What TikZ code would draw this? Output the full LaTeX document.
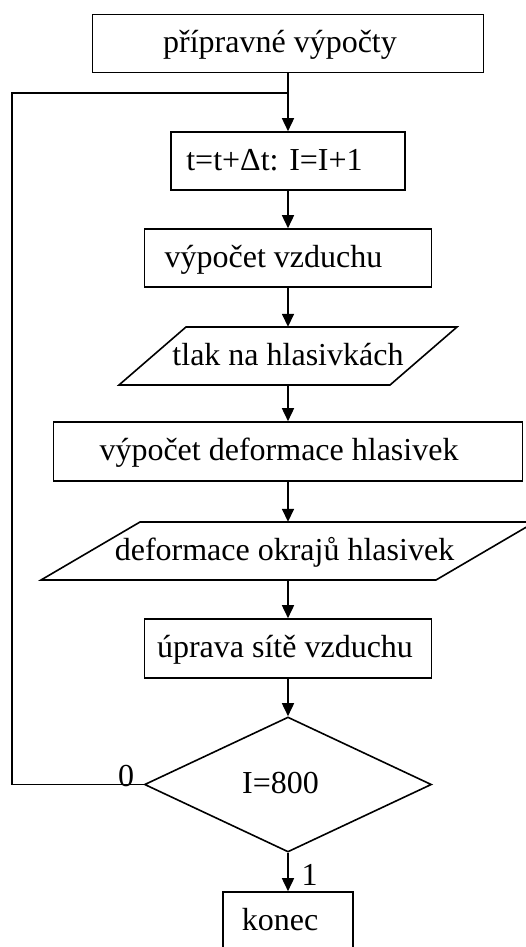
\documentclass[tikz,border=0pt]{standalone}
\usepackage{fontspec}
\setmainfont{Liberation Serif}
\usetikzlibrary{arrows.meta,shapes.geometric,calc}
\begin{document}
\begin{tikzpicture}[x=1pt,y=-1pt,
  every node/.style={font=\fontsize{32}{38}\selectfont, inner sep=0pt, text height=22pt, text depth=4pt},
  conn/.style={line width=1.6pt},
  box/.style={draw, conn, rectangle, minimum height=58pt},
  flow/.style={conn, -{Triangle[length=13pt,width=12pt]}},
  lab/.style={anchor=base, text height=, text depth=}
]
\path[use as bounding box, clip] (0,0) rectangle (526,947);

\node[box, minimum width=391pt] (prep) at (288,43.5) {přípravné výpočty\hspace*{16pt}};
\node[box, minimum width=234.5pt] (step) at (288,161) {t=t+Δt: I=I+1\hspace*{27pt}};
\node[box, minimum width=287pt] (air) at (288,258) {výpočet vzduchu\hspace*{29pt}};
\node[minimum width=271pt, minimum height=58pt] (press) at (288,356) {tlak na hlasivkách};
\draw[conn] ($(press.center)+(-169,29)$) -- ($(press.center)+(102,29)$)
  -- ($(press.center)+(169,-29)$) -- ($(press.center)+(-102,-29)$) -- cycle;
\node[box, minimum width=469pt, minimum height=59pt] (deform) at (288,451.5) {výpočet deformace hlasivek\hspace*{18pt}};
\node[minimum width=300pt, minimum height=58pt] (edges) at (288,551) {deformace okrajů hlasivek\hspace*{7pt}};
\draw[conn] ($(edges.center)+(-247,29)$) -- ($(edges.center)+(148,29)$)
  -- ($(edges.center)+(247,-29)$) -- ($(edges.center)+(-148,-29)$) -- cycle;
\node[box, minimum width=287pt, minimum height=59pt] (mesh) at (288,648.5) {úprava sítě vzduchu\hspace*{6pt}};
\node[diamond, draw, conn, minimum width=287pt, minimum height=135pt] (test) at (288,784.5) {I=800\hspace*{15pt}};
\node[box, minimum width=130pt] (end) at (288,921) {konec\hspace*{16pt}};

\draw[flow] (prep) -- (step);
\draw[flow] (step) -- (air);
\draw[flow] (air) -- (press);
\draw[flow] (press) -- (deform);
\draw[flow] (deform) -- (edges);
\draw[flow] (edges) -- (mesh);
\draw[flow] (mesh) -- (test);
\draw[flow] (test) -- (end);

\coordinate (join) at (288,93);
\coordinate (loopbl) at (12,784.5);
\coordinate (looptl) at (12,93);
\draw[conn] (test.west) -- (loopbl) -- (looptl) -- (join);

\node[lab] (zero) at (126,786) {0};
\node[lab] (one) at (309.5,885) {1};
\end{tikzpicture}
\end{document}
